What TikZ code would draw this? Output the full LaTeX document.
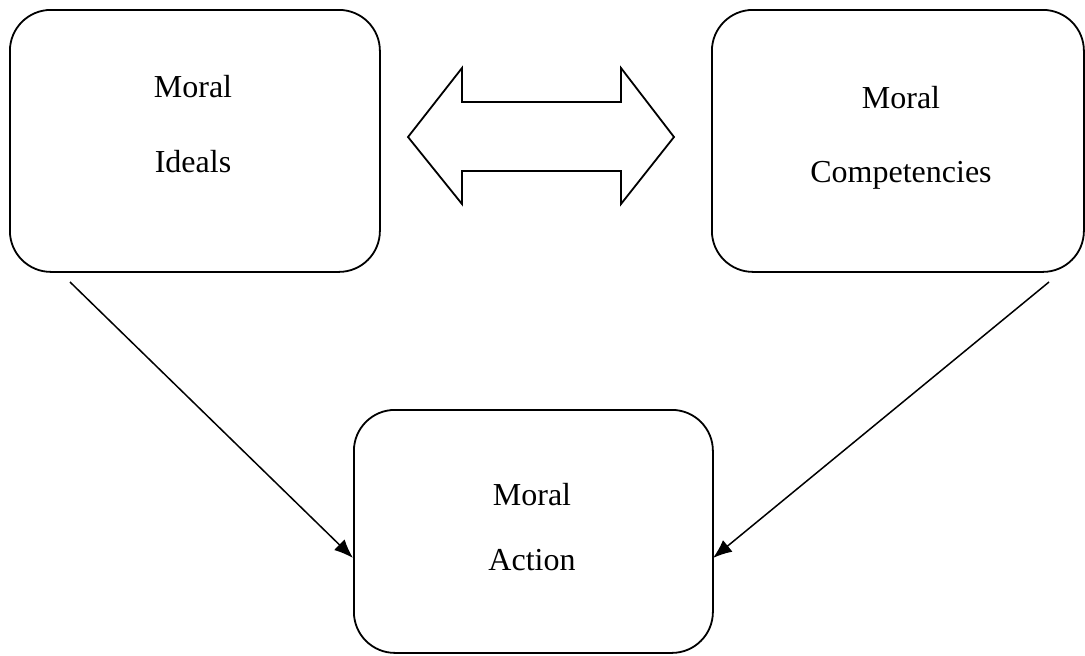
\documentclass[tikz,border=0pt]{standalone}
\usepackage{fontspec}
\setmainfont{Liberation Serif}
\usetikzlibrary{arrows.meta}
\begin{document}
\begin{tikzpicture}[x=1pt,y=-1pt,
  box/.style={draw,line width=1.8pt,rounded corners=41pt,inner sep=0pt,anchor=north west},
  lbl/.style={anchor=base,inner sep=0pt,font=\fontsize{32}{38}\selectfont},
  link/.style={line width=1.5pt,-{Latex[length=19pt,width=15pt]}},
  twoway/.style={line width=1.8pt,line join=miter}]
\useasboundingbox (0,0) rectangle (1085,656);
% the three boxes
\node[box,minimum width=370pt,minimum height=262pt] (ideals) at (9,9) {};
\node[box,minimum width=372pt,minimum height=262pt] (comp) at (711,9) {};
\node[box,minimum width=359pt,minimum height=243pt] (action) at (353,409) {};
% labels
\node[lbl] (i1) at (193,97) {Moral};
\node[lbl] (i2) at (193,172) {Ideals};
\node[lbl] (c1) at (901,108) {Moral};
\node[lbl] (c2) at (901,182) {Competencies};
\node[lbl] (a1) at (532,505) {Moral};
\node[lbl] (a2) at (532,570) {Action};
% two-headed block arrow between the upper boxes
\draw[twoway] (408,137) -- (462,68) -- (462,102) -- (621,102) -- (621,68)
  -- (674,137) -- (621,204) -- (621,171) -- (462,171) -- (462,204) -- cycle;
% arrows down to the action box
\coordinate (s1) at (70,282);
\coordinate (e1) at (353,558);
\coordinate (s2) at (1049,282);
\coordinate (e2) at (713,558);
\draw[link] (s1) -- (e1);
\draw[link] (s2) -- (e2);
\end{tikzpicture}
\end{document}
